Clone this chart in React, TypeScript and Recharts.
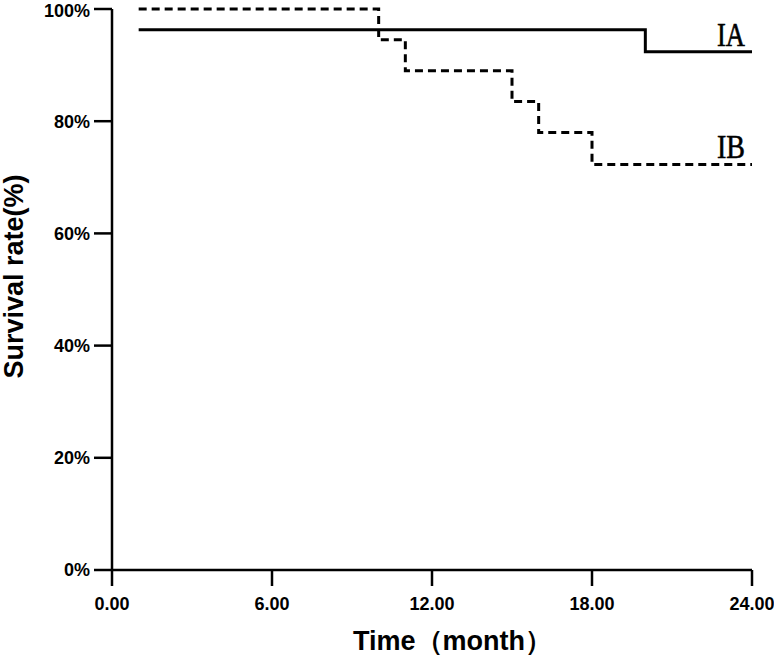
import { LabelList, Line, LineChart, XAxis, YAxis } from "recharts";

const TIME_IA = [1, 20, 24];
const SURV_IA = [96.3, 92.4, 92.4];
const TIME_IB = [1, 10, 11, 15, 16, 18, 24];
const SURV_IB = [100, 94.5, 89.0, 83.5, 78.0, 72.3, 72.3];
const X_TICKS = [0, 6, 12, 18, 24];
const Y_TICKS = [0, 20, 40, 60, 80, 100];

const dataIA = TIME_IA.map((t, i) => ({ t, s: SURV_IA[i] }));
const dataIB = TIME_IB.map((t, i) => ({ t, s: SURV_IB[i] }));

const SANS = "'Liberation Sans', Arial, sans-serif";
const SERIF = "'Liberation Serif', 'Times New Roman', serif";

function endLabel(text: string, count: number) {
    return (props: any) => {
        if (props.index !== count - 1) return null;
        return (
            <text
                x={Number(props.x) - 7}
                y={Number(props.y) - 6}
                textAnchor="end"
                fontFamily={SERIF}
                fontSize={34}
                fill="#000"
                stroke="#000"
                strokeWidth={0.6}
                textLength={28}
                lengthAdjust="spacingAndGlyphs"
            >
                {text}
            </text>
        );
    };
}

function YTitle(props: any) {
    const vb = props.viewBox;
    const x = vb.x + 23;
    const y = vb.y + vb.height / 2 - 13;
    return (
        <text
            x={x}
            y={y}
            transform={`rotate(-90 ${x} ${y})`}
            textAnchor="middle"
            fontFamily={SANS}
            fontWeight="bold"
            fontSize={27}
            fill="#000"
        >
            Survival rate(%)
        </text>
    );
}

function XTitle(props: any) {
    const vb = props.viewBox;
    return (
        <text
            x={vb.x + vb.width / 2 - 79}
            y={650}
            textAnchor="start"
            fontFamily={SANS}
            fontWeight="bold"
            fontSize={27}
            fill="#000"
        >
            Time（month）
        </text>
    );
}

const tickStyle = { fill: "#000", fontSize: 18, fontWeight: "bold", fontFamily: SANS };

export default function App() {
    return (
        <div style={{ position: "absolute", left: 0, top: 0, background: "#fff" }}>
            <LineChart width={774} height={656} margin={{ top: 9, right: 22, bottom: 26, left: 0 }}>
                <XAxis
                    type="number"
                    dataKey="t"
                    domain={[0, 24]}
                    ticks={X_TICKS}
                    tickFormatter={(v) => Number(v).toFixed(2)}
                    height={60}
                    tickSize={16}
                    tickMargin={11}
                    axisLine={{ stroke: "#000", strokeWidth: 2.5 }}
                    tickLine={{ stroke: "#000", strokeWidth: 2.5 }}
                    tick={tickStyle}
                    label={XTitle}
                    allowDuplicatedCategory={false}
                />
                <YAxis
                    type="number"
                    domain={[0, 100]}
                    ticks={Y_TICKS}
                    tickFormatter={(v) => `${v}%`}
                    width={112}
                    tickSize={18}
                    tickMargin={4}
                    axisLine={{ stroke: "#000", strokeWidth: 2.5 }}
                    tickLine={{ stroke: "#000", strokeWidth: 2.5 }}
                    tick={tickStyle}
                    label={YTitle}
                />
                <Line
                    data={dataIB}
                    dataKey="s"
                    type="stepAfter"
                    stroke="#000"
                    strokeWidth={3}
                    strokeDasharray="8 5"
                    dot={false}
                    isAnimationActive={false}
                >
                    <LabelList dataKey="s" content={endLabel("IB", dataIB.length)} />
                </Line>
                <Line
                    data={dataIA}
                    dataKey="s"
                    type="stepAfter"
                    stroke="#000"
                    strokeWidth={3}
                    dot={false}
                    isAnimationActive={false}
                >
                    <LabelList dataKey="s" content={endLabel("IA", dataIA.length)} />
                </Line>
            </LineChart>
        </div>
    );
}
